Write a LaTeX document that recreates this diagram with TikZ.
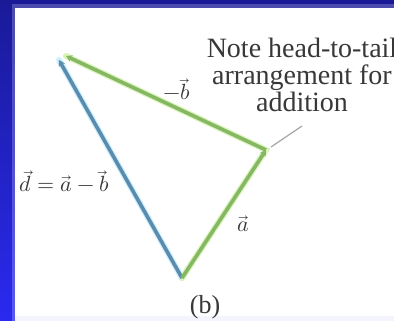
\documentclass[tikz,border=0pt]{standalone}
\usepackage{fontspec}
\setmainfont{Liberation Serif}
\usepackage{unicode-math}
\setmathfont{Latin Modern Math}
\usetikzlibrary{arrows.meta}
\definecolor{frameTop}{HTML}{1A1A98}
\definecolor{frameBot}{HTML}{2A2AF0}
\definecolor{vecgreen}{HTML}{86B864}
\definecolor{halogreen}{HTML}{D8F4B8}
\definecolor{vecblue}{HTML}{5A8CAE}
\definecolor{haloblue}{HTML}{CDEFFF}
\definecolor{txt}{HTML}{383838}
\definecolor{bottomstrip}{HTML}{F4F4FF}
\tikzset{
  halo/.style={line width=6pt, draw=#1, line cap=round},
  greenvec/.style={line width=3.6pt, draw=vecgreen, -{Stealth[length=6pt,width=7pt]}},
  bluevec/.style={line width=3.6pt, draw=vecblue, -{Stealth[length=6pt,width=7pt]}},
  mathlabel/.style={text=txt, font=\fontsize{22}{24}\selectfont, inner sep=0pt},
  note/.style={text=txt, font=\fontsize{28}{27}\selectfont, align=center, inner sep=0pt},
  leader/.style={draw=gray!70, line width=1.2pt}
}
\begin{document}
\begin{tikzpicture}[x=1pt,y=-1pt]
\useasboundingbox (0,0) rectangle (394,321);
% frame
\shade[top color=frameTop, bottom color=frameBot] (0,0) rectangle (394,321);
\fill[white, opacity=0.22] (12,4) rectangle (394,321);
\fill[white] (15,8) rectangle (394,316);
\fill[bottomstrip] (15,316) rectangle (394,321);
% vertices
\coordinate (C) at (182,278);
\coordinate (B) at (266,150);
\coordinate (Ag) at (66,56);
\coordinate (Ab) at (59,60);
% halos
\draw[halo=haloblue] (C) -- (Ab);
\draw[halo=halogreen] (C) -- (B) -- (Ag);
% vectors
\draw[bluevec] (C) -- (Ab);
\draw[greenvec] (C) -- (B);
\draw[greenvec] (B) -- (Ag);
% labels
\node[mathlabel] (lb) at (177,89) {$-\vec{b}$};
\node[mathlabel] (la) at (243,224) {$\vec{a}$};
\node[mathlabel] (ld) at (64,181) {$\vec{d}=\vec{a}-\vec{b}$};
\node[note] (nt) at (302,75) {Note head-to-tail\\arrangement for\\addition};
\coordinate (lead1) at (302,126);
\coordinate (lead2) at (271,147);
\draw[leader] (lead1) -- (lead2);
\node[text=txt, font=\fontsize{26}{28}\selectfont, inner sep=0pt] (cap) at (205,307) {(b)};
\end{tikzpicture}
\end{document}
